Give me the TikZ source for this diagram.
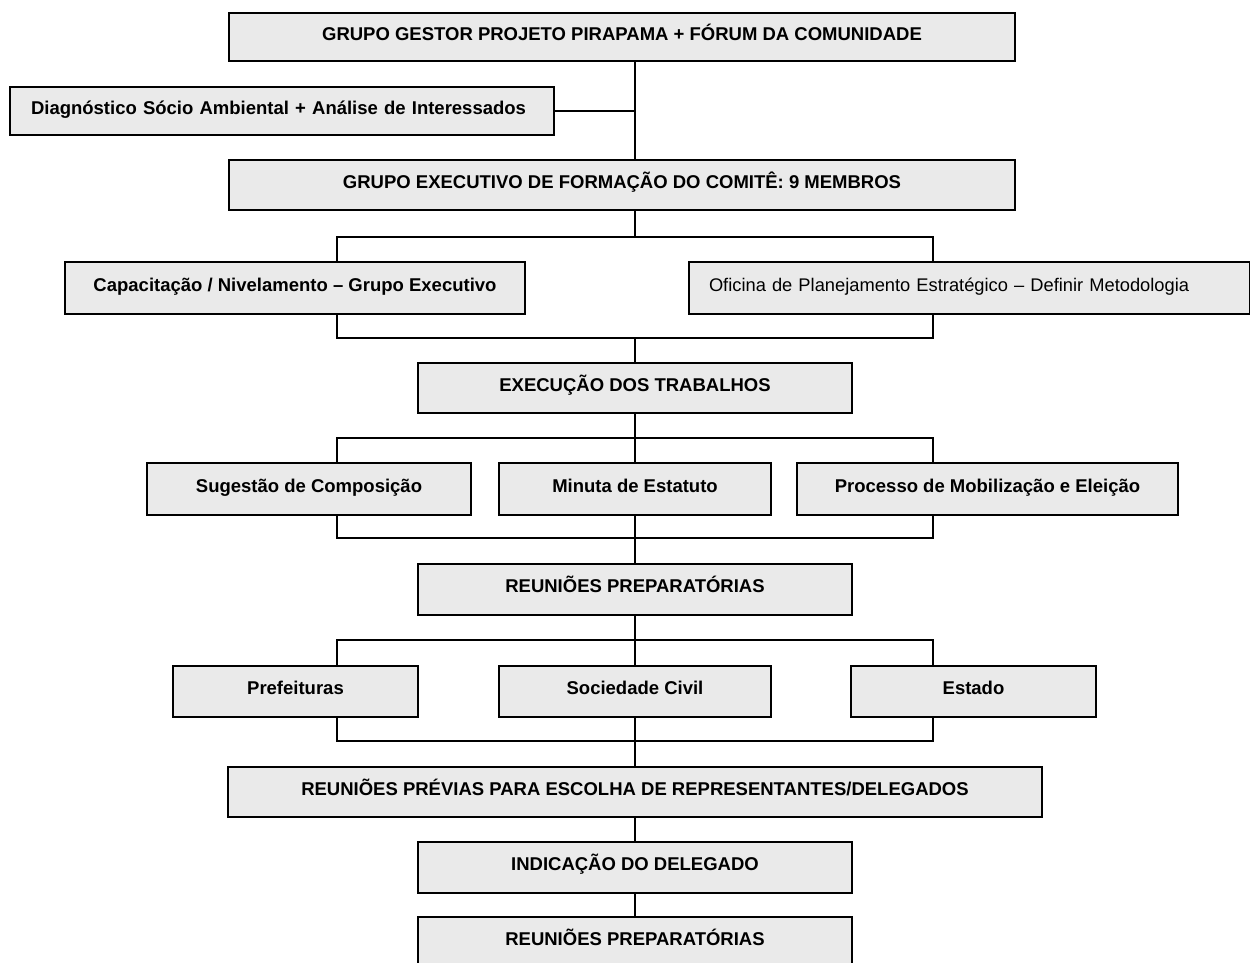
\documentclass[tikz,border=0pt]{standalone}
\usepackage{fontspec}
\setmainfont{Liberation Sans}
\usetikzlibrary{shadows}
\definecolor{boxgray}{HTML}{EAEAEA}
\begin{document}
\begin{tikzpicture}[x=1pt,y=-1pt,
  box/.style={draw=black, line width=1.5pt, fill=boxgray, inner sep=0pt,
    font=\fontsize{18.5}{21}\selectfont\bfseries, text height=13.5pt, text depth=7pt,
    drop shadow={shadow xshift=1.3pt, shadow yshift=-1.3pt, opacity=1, fill=black!70}},
  link/.style={line width=1.6pt, draw=black}]
\fill[white] (0,0) rectangle (1250,962);
\useasboundingbox (0,0) rectangle (1250,962);

\coordinate (xc) at (635,0);
\coordinate (xl) at (337,0);
\coordinate (xr) at (933,0);
\coordinate (b1) at (635,237);
\coordinate (j1) at (635,338);
\coordinate (b2) at (635,438);
\coordinate (j2) at (635,538);
\coordinate (b3) at (635,640);
\coordinate (j3) at (635,741);

\node[box, minimum width=786pt, minimum height=48pt] (g1) at (622,37) {GRUPO GESTOR PROJETO PIRAPAMA + FÓRUM DA COMUNIDADE};
\node[box, minimum width=544pt, minimum height=48pt, text width=502pt, align=left] (diag) at (282,111) {Diagnóstico Sócio Ambiental + Análise de Interessados};
\node[box, minimum width=786pt, minimum height=50pt] (g2) at (622,185) {GRUPO EXECUTIVO DE FORMAÇÃO DO COMITÊ: 9 MEMBROS};

\node[box, minimum width=460pt, minimum height=52pt] (cap) at (295,288) {Capacitação / Nivelamento – Grupo Executivo};
\node[box, minimum width=561pt, minimum height=52pt, text width=521pt, align=left, font=\fontsize{18.3}{21}\selectfont] (ofi) at (969.5,288) {Oficina de Planejamento Estratégico – Definir Metodologia};

\node[box, minimum width=434pt, minimum height=50pt] (exe) at (635,388) {EXECUÇÃO DOS TRABALHOS};

\node[box, minimum width=324pt, minimum height=52pt] (sug) at (309,489) {Sugestão de Composição};
\node[box, minimum width=272pt, minimum height=52pt] (min) at (635,489) {Minuta de Estatuto};
\node[box, minimum width=381pt, minimum height=52pt] (pro) at (987.5,489) {Processo de Mobilização e Eleição};

\node[box, minimum width=434pt, minimum height=51pt] (rp1) at (635,589.5) {REUNIÕES PREPARATÓRIAS};

\node[box, minimum width=245pt, minimum height=51pt] (pre) at (295.5,691.5) {Prefeituras};
\node[box, minimum width=272pt, minimum height=51pt] (soc) at (635,691.5) {Sociedade Civil};
\node[box, minimum width=245pt, minimum height=51pt] (est) at (973.5,691.5) {Estado};

\node[box, minimum width=814pt, minimum height=50pt] (rpv) at (635,792) {REUNIÕES PRÉVIAS PARA ESCOLHA DE REPRESENTANTES/DELEGADOS};
\node[box, minimum width=434pt, minimum height=51pt] (ind) at (635,867.5) {INDICAÇÃO DO DELEGADO};
\node[box, minimum width=434pt, minimum height=50pt] (rp2) at (635,942) {REUNIÕES PREPARATÓRIAS};

\draw[link] (g1.south -| xc) -- (g2.north -| xc);
\draw[link] (diag.east) -- (diag.east -| xc);

\draw[link] (g2.south -| xc) -- (b1);
\draw[link] (cap.north -| xl) |- (b1) -| (ofi.north -| xr);
\draw[link] (cap.south -| xl) |- (j1) -| (ofi.south -| xr);
\draw[link] (j1) -- (exe.north);

\draw[link] (exe.south) -- (min.north);
\draw[link] (sug.north -| xl) |- (b2) -| (pro.north -| xr);
\draw[link] (sug.south -| xl) |- (j2) -| (pro.south -| xr);
\draw[link] (min.south) -- (rp1.north);

\draw[link] (rp1.south) -- (soc.north);
\draw[link] (pre.north -| xl) |- (b3) -| (est.north -| xr);
\draw[link] (pre.south -| xl) |- (j3) -| (est.south -| xr);
\draw[link] (soc.south) -- (rpv.north);
\draw[link] (rpv.south) -- (ind.north);
\draw[link] (ind.south) -- (rp2.north);
\end{tikzpicture}
\end{document}
